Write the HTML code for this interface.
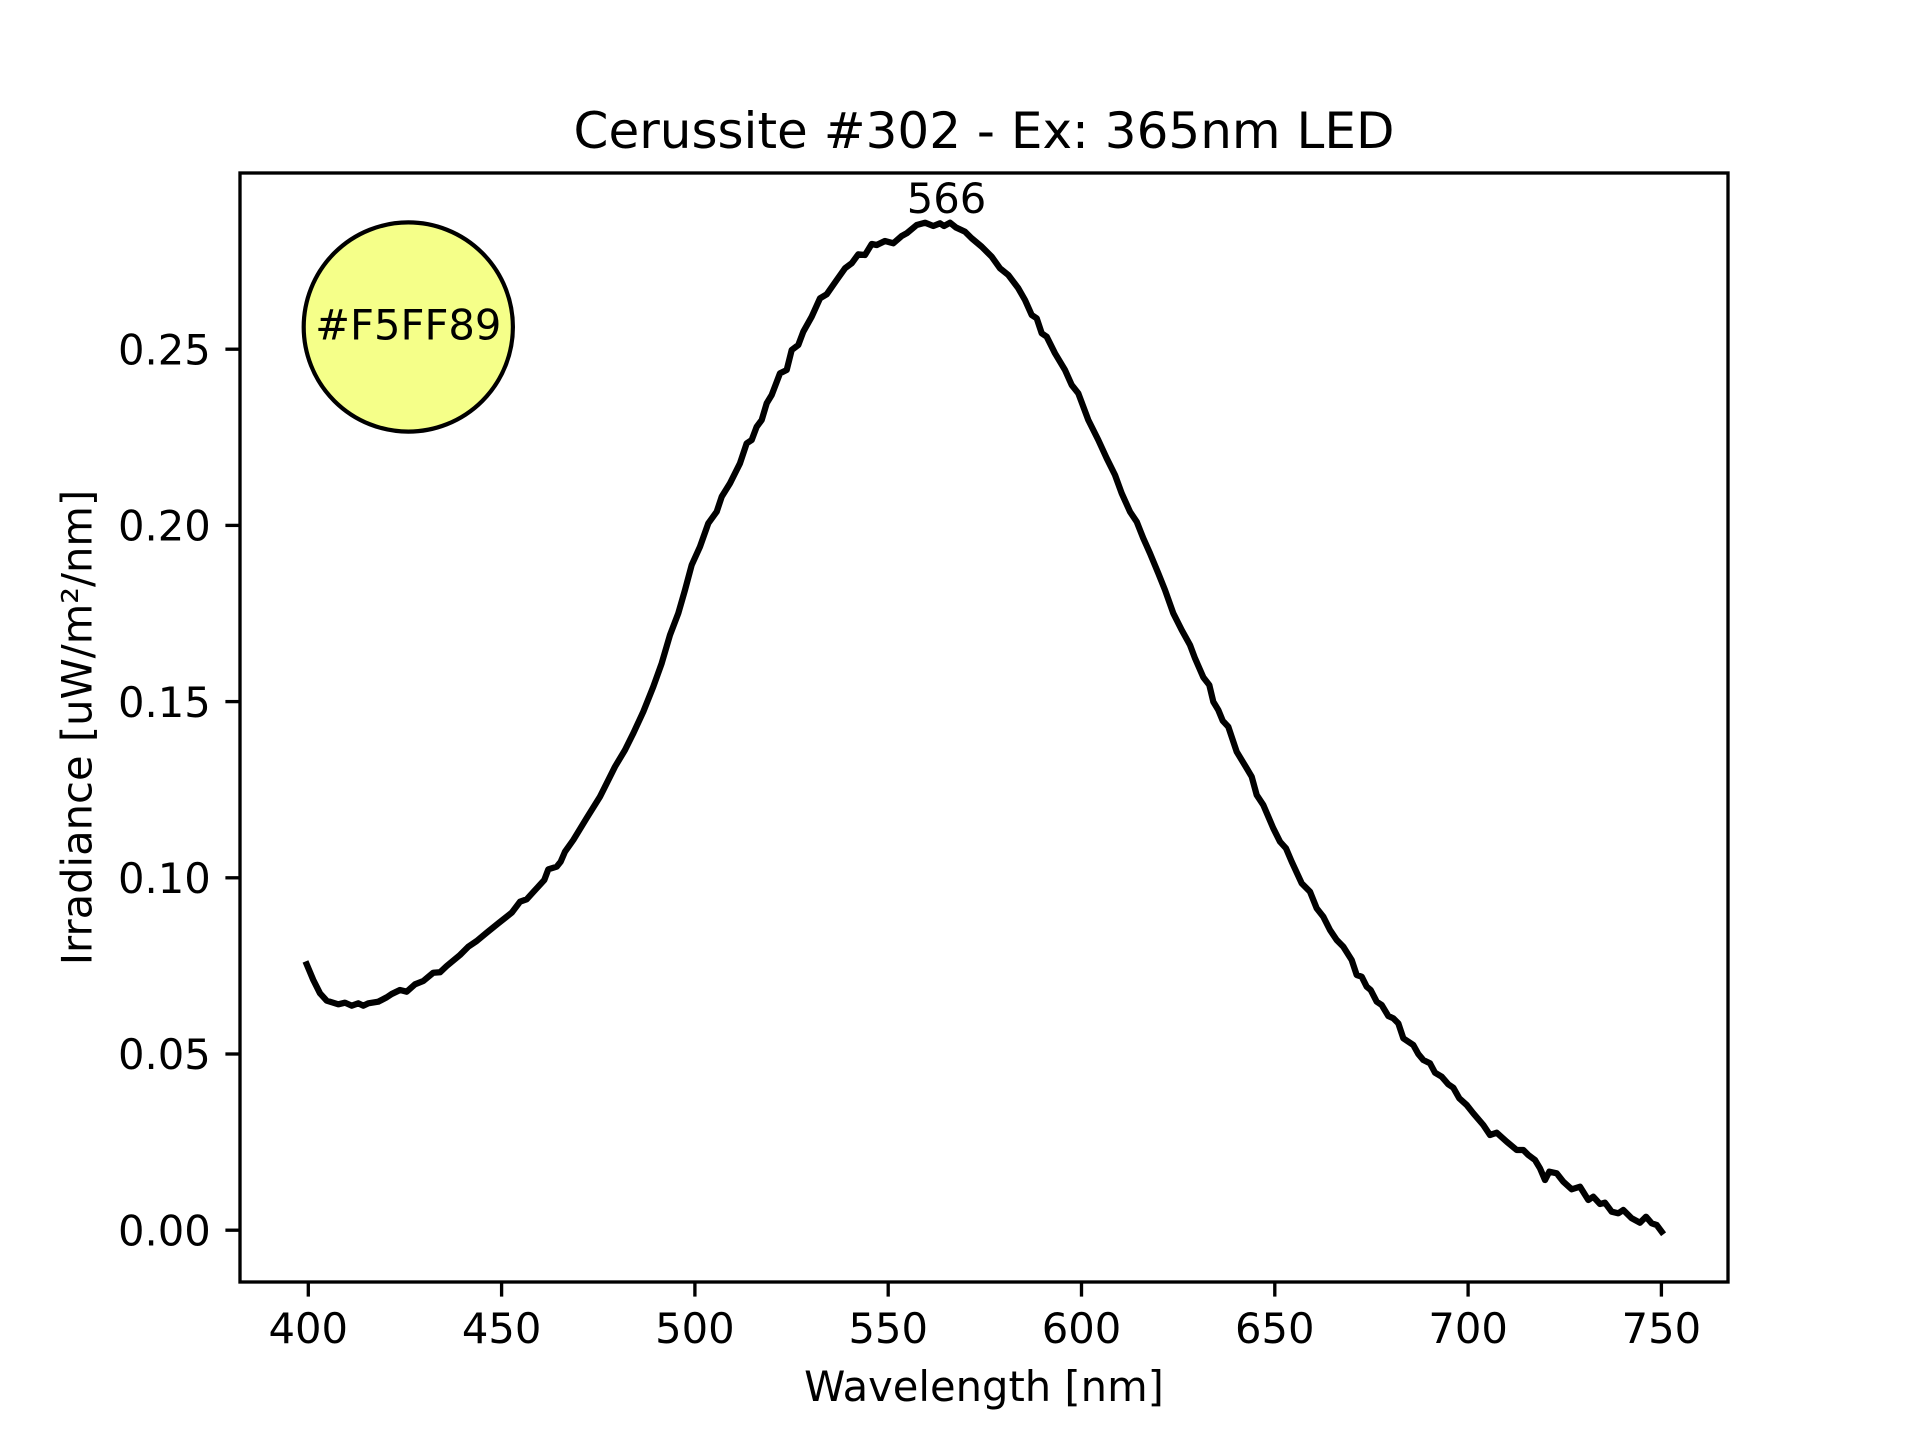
<!DOCTYPE html>
<html><head><meta charset="utf-8"><style>
html,body{margin:0;padding:0;background:#fff;}
svg{display:block;}
text{font-family:"DejaVu Sans","Liberation Sans",sans-serif;fill:#000;}
</style></head><body>
<svg width="1920" height="1440" viewBox="0 0 1920 1440" xmlns="http://www.w3.org/2000/svg">
<rect x="0" y="0" width="1920" height="1440" fill="#fff"/>
<!-- color circle -->
<circle cx="408.3" cy="327" r="104.6" fill="#F5FF89" stroke="#000" stroke-width="4.2"/>
<text x="408.3" y="339.3" font-size="41.67" text-anchor="middle">#F5FF89</text>
<!-- curve -->
<polyline fill="none" stroke="#000" stroke-width="6.25" stroke-linejoin="round" stroke-linecap="square" points="
306.7,964.3 313.3,980 320,993.3 326.7,1000.7 338.3,1004.3 345,1002.7 351.7,1005.7 358.3,1003.3 363.3,1005.7 368.3,1003.3 378.3,1001.7 386.7,997.3 391.7,994 400,990 406.7,991.7 415,984.3 423.3,981 433.3,972.7 440,972.3 446.7,966 460,955 468.3,946.7 476.7,941 486.7,932.7 498.3,923.3 511.7,912.7 520,901.7 526.7,899.3 536.7,888.3 544.3,880 548.3,869.3 556.7,866.7 560.7,861.7 565,851.7 573.3,840 586.7,818 600,796.7 606.7,783.3 615,766.7 625,750 633.3,733.3 643.3,711.7 653.3,686.7 661.7,663.3 670,635 678.3,613.3 685,590 691.7,565 700,546.7 708.3,523.3 716.7,511.7 721.7,496.7 730,483.3 740,463.3 746.7,443.3 751.7,440 756.7,426.7 761.7,420 766.7,403.3 771.7,395 780,373.3 786.7,370 791.7,350 798.3,345 803.3,331.7 811.7,316.7 820,298.3 826.7,294.3 836.7,280 845,268.3 851.7,263.3 858.3,254.3 865,255 871.7,244 876.7,245 885,241 893.3,243.3 901.7,236 906.7,233.3 916.7,225 925,222.7 933.3,226 940,223.3 944,226 950,222.7 956,227.5 965,231.7 971.7,238.3 981.7,246.7 991.7,256.7 1000,268.3 1008.3,275 1018.3,288.3 1025,300 1031.7,315 1036.7,318.3 1041.7,333.3 1046.7,336.7 1055,353.3 1065,370 1071.7,385 1078.3,393.3 1088.3,420 1098.3,440 1106.7,458.3 1115,475 1121.7,493.3 1130,511.7 1136.7,521.7 1143.3,538.3 1150,553.3 1158.3,573.3 1165,590 1173.3,613.3 1181.7,630 1190,645 1195,658.3 1203.3,677.3 1209.3,685 1213.3,701.7 1218.3,710 1222.7,720.7 1228.3,726.7 1236.7,751.7 1246.7,768.3 1251.7,776.7 1256.7,795 1263.3,805 1273.3,828.3 1280,841.7 1286,848.3 1291.7,861.7 1301.7,883.3 1310,891.7 1316.7,908.3 1323.3,916.7 1330,930 1336.7,940 1343.3,946.7 1351.7,960 1356.7,975 1361.7,976.7 1366.7,986.7 1370.7,990 1376.7,1001.7 1381.7,1005 1388.3,1016 1393.3,1018.3 1398.3,1023.3 1403.3,1038.3 1413.3,1045 1418.3,1054 1423.3,1060 1430,1063.3 1435,1072.7 1441.7,1076.7 1448.3,1084.3 1453.3,1087.7 1459.3,1098.3 1466.7,1105 1473.3,1113.3 1483.3,1125 1490,1135 1496.7,1132.7 1506.7,1141.7 1516.7,1150 1523.3,1150 1528.3,1155 1535,1160 1540,1168.3 1545,1180 1549.3,1171.7 1556.7,1173.3 1563.3,1181.7 1571.7,1189.3 1580,1186.7 1588.3,1200 1593.3,1196.7 1600,1204 1605,1202.7 1611.7,1211.7 1618.3,1213.3 1623.3,1210 1631.7,1218.3 1640,1222.7 1646,1216.7 1651.7,1223.3 1656.7,1225 1661.7,1231.7"/>
<!-- annotation -->
<text x="946.5" y="213" font-size="41.67" text-anchor="middle">566</text>
<!-- axes frame -->
<rect x="240" y="173" width="1488" height="1109" fill="none" stroke="#000" stroke-width="3.33" stroke-linejoin="miter"/>
<!-- y ticks -->
<g stroke="#000" stroke-width="3.33">
<line x1="225.4" y1="1230.2" x2="240" y2="1230.2"/>
<line x1="225.4" y1="1054.0" x2="240" y2="1054.0"/>
<line x1="225.4" y1="877.8" x2="240" y2="877.8"/>
<line x1="225.4" y1="701.6" x2="240" y2="701.6"/>
<line x1="225.4" y1="525.4" x2="240" y2="525.4"/>
<line x1="225.4" y1="349.2" x2="240" y2="349.2"/>
</g>
<g font-size="41.67" text-anchor="end">
<text x="210.8" y="1245.4">0.00</text>
<text x="210.8" y="1069.2">0.05</text>
<text x="210.8" y="893.0">0.10</text>
<text x="210.8" y="716.8">0.15</text>
<text x="210.8" y="540.6">0.20</text>
<text x="210.8" y="364.4">0.25</text>
</g>
<!-- x ticks -->
<g stroke="#000" stroke-width="3.33">
<line x1="308.3" y1="1282" x2="308.3" y2="1296.6"/>
<line x1="501.6" y1="1282" x2="501.6" y2="1296.6"/>
<line x1="694.9" y1="1282" x2="694.9" y2="1296.6"/>
<line x1="888.2" y1="1282" x2="888.2" y2="1296.6"/>
<line x1="1081.5" y1="1282" x2="1081.5" y2="1296.6"/>
<line x1="1274.8" y1="1282" x2="1274.8" y2="1296.6"/>
<line x1="1468.1" y1="1282" x2="1468.1" y2="1296.6"/>
<line x1="1661.4" y1="1282" x2="1661.4" y2="1296.6"/>
</g>
<g font-size="41.67" text-anchor="middle">
<text x="308.3" y="1343">400</text>
<text x="501.6" y="1343">450</text>
<text x="694.9" y="1343">500</text>
<text x="888.2" y="1343">550</text>
<text x="1081.5" y="1343">600</text>
<text x="1274.8" y="1343">650</text>
<text x="1468.1" y="1343">700</text>
<text x="1661.4" y="1343">750</text>
</g>
<!-- labels -->
<text x="984" y="1401" font-size="41.67" text-anchor="middle">Wavelength [nm]</text>
<text transform="translate(91.5,727.5) rotate(-90)" font-size="41.67" text-anchor="middle">Irradiance [uW/m²/nm]</text>
<text x="984" y="148" font-size="50" text-anchor="middle">Cerussite #302 - Ex: 365nm LED</text>
</svg>
</body></html>
